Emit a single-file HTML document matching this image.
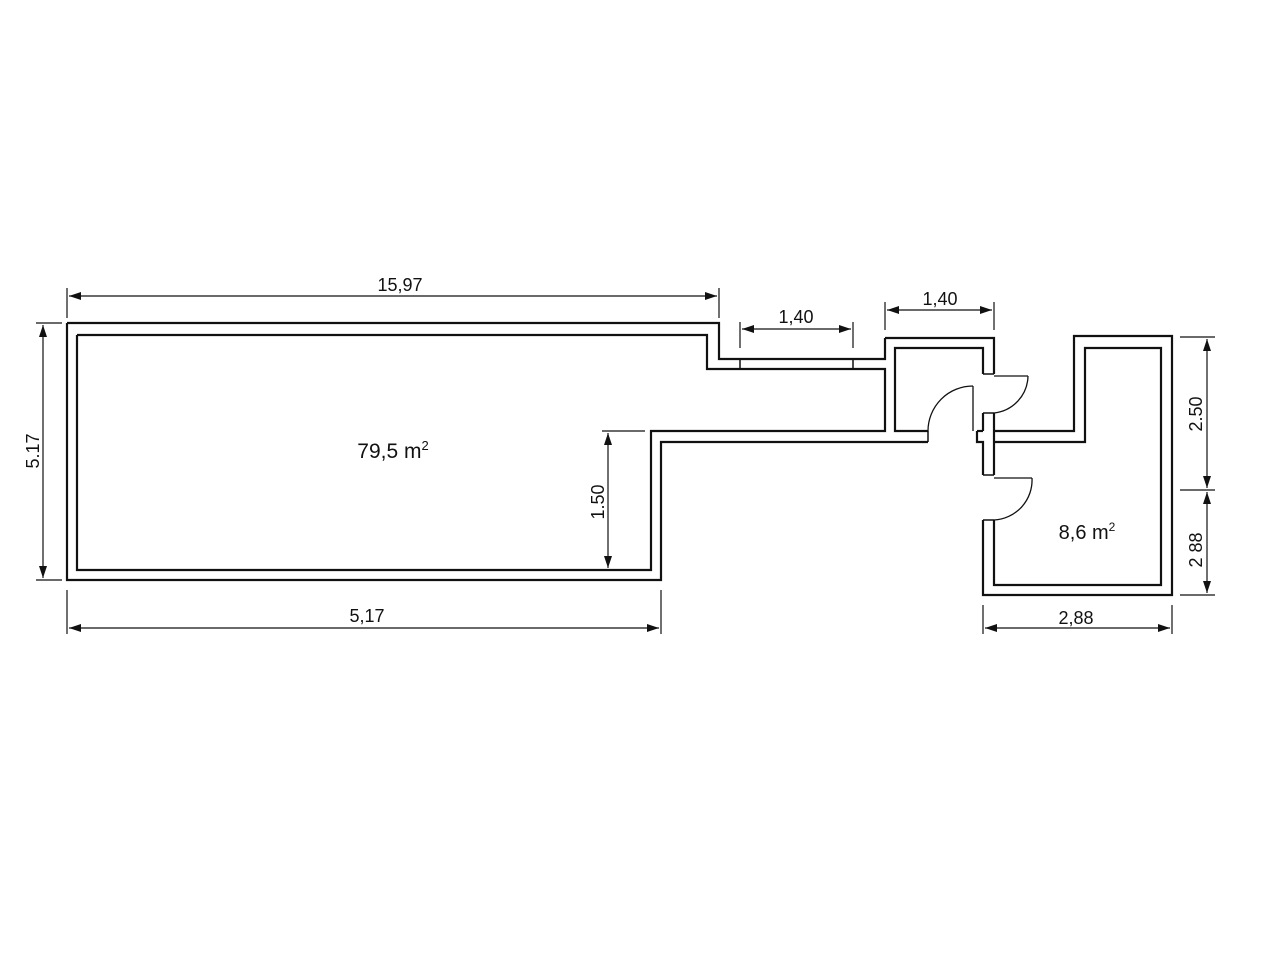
<!DOCTYPE html>
<html><head><meta charset="utf-8"><style>html,body{margin:0;padding:0;background:#fff}svg{display:block}text{font-family:"Liberation Sans",sans-serif;fill:#111}</style></head>
<body>
<svg width="1280" height="960" viewBox="0 0 1280 960">
<defs>
<marker id="a" viewBox="0 0 12 8" refX="12" refY="4" markerWidth="12" markerHeight="8" orient="auto-start-reverse" markerUnits="userSpaceOnUse"><path d="M0,0 L12,4 L0,8 Z" fill="#111"/></marker>
</defs>
<g fill="none" stroke="#111" stroke-width="2.2">
<polyline points="885,338 994,338 994,374"/>
<polyline points="67,323 719,323 719,359 885,359 885,338"/>
<polyline points="67,323 67,580 661,580 661,442 928,442"/>
<polyline points="77,335 707,335 707,369 885,369 885,431 651,431 651,570 77,570 77,335"/>
<polyline points="928,431 895,431 895,348 983,348 983,374"/>
<line x1="983" y1="413" x2="983" y2="431"/>
<line x1="994" y1="413" x2="994" y2="431"/>
<polyline points="977,431 977,442 983,442 983,475"/>
<line x1="977" y1="431" x2="983" y2="431"/>
<line x1="994" y1="431" x2="994" y2="475"/>
<line x1="983" y1="374" x2="994" y2="374" stroke-width="1.5"/>
<line x1="983" y1="413" x2="994" y2="413" stroke-width="1.5"/>
<line x1="983" y1="475" x2="994" y2="475" stroke-width="1.5"/>
<line x1="983" y1="520" x2="994" y2="520" stroke-width="1.5"/>
<line x1="928" y1="431" x2="928" y2="442" stroke-width="1.5"/>
<polyline points="994,431 1074,431 1074,336 1172,336 1172,595 983,595 983,520"/>
<polyline points="994,442 1085,442 1085,348 1161,348 1161,585 994,585 994,520"/>
<line x1="740" y1="359" x2="740" y2="369" stroke-width="1.5"/>
<line x1="853" y1="359" x2="853" y2="369" stroke-width="1.5"/>
<g stroke-width="1.3">
<line x1="994" y1="376" x2="1028" y2="376"/>
<path d="M1028,376 A38,38 0 0 1 994,413"/>
<line x1="973" y1="386" x2="973" y2="431"/>
<path d="M973,386 A45,45 0 0 0 928,431"/>
<line x1="994" y1="478" x2="1032" y2="478"/>
<path d="M1032,478 A40,40 0 0 1 994,520"/>
</g>
</g>
<g stroke="#111" stroke-width="1.2" fill="none">
<line x1="67" y1="288" x2="67" y2="318"/><line x1="719" y1="288" x2="719" y2="318"/>
<line x1="69" y1="296" x2="717" y2="296" marker-start="url(#a)" marker-end="url(#a)"/>
<line x1="740" y1="322" x2="740" y2="348"/><line x1="853" y1="322" x2="853" y2="348"/>
<line x1="742" y1="329" x2="851" y2="329" marker-start="url(#a)" marker-end="url(#a)"/>
<line x1="885" y1="302" x2="885" y2="330"/><line x1="994" y1="302" x2="994" y2="330"/>
<line x1="887" y1="310" x2="992" y2="310" marker-start="url(#a)" marker-end="url(#a)"/>
<line x1="36" y1="323" x2="62" y2="323"/><line x1="36" y1="580" x2="62" y2="580"/>
<line x1="43" y1="325" x2="43" y2="578" marker-start="url(#a)" marker-end="url(#a)"/>
<line x1="67" y1="590" x2="67" y2="634"/><line x1="661" y1="590" x2="661" y2="634"/>
<line x1="69" y1="628" x2="659" y2="628" marker-start="url(#a)" marker-end="url(#a)"/>
<line x1="602" y1="431" x2="645" y2="431"/>
<line x1="608" y1="433" x2="608" y2="568" marker-start="url(#a)" marker-end="url(#a)"/>
<line x1="1180" y1="337" x2="1215" y2="337"/><line x1="1180" y1="490" x2="1215" y2="490"/><line x1="1180" y1="595" x2="1215" y2="595"/>
<line x1="1207" y1="339" x2="1207" y2="488" marker-start="url(#a)" marker-end="url(#a)"/>
<line x1="1207" y1="492" x2="1207" y2="593" marker-start="url(#a)" marker-end="url(#a)"/>
<line x1="983" y1="605" x2="983" y2="634"/><line x1="1172" y1="605" x2="1172" y2="634"/>
<line x1="985" y1="628" x2="1170" y2="628" marker-start="url(#a)" marker-end="url(#a)"/>
</g>
<g font-size="18" text-anchor="middle">
<text x="400" y="291">15,97</text>
<text x="796" y="323">1,40</text>
<text x="940" y="305">1,40</text>
<text x="367" y="622">5,17</text>
<text x="1076" y="624">2,88</text>
<text transform="translate(39,451) rotate(-90)">5.17</text>
<text transform="translate(604,502) rotate(-90)">1.50</text>
<text transform="translate(1202,414) rotate(-90)">2.50</text>
<text transform="translate(1202,550) rotate(-90)">2 88</text>
</g>
<text x="393" y="458" font-size="21" text-anchor="middle">79,5 m<tspan font-size="13" dy="-8">2</tspan></text>
<text x="1087" y="539" font-size="20" text-anchor="middle">8,6 m<tspan font-size="12" dy="-8">2</tspan></text>
</svg>
</body></html>
